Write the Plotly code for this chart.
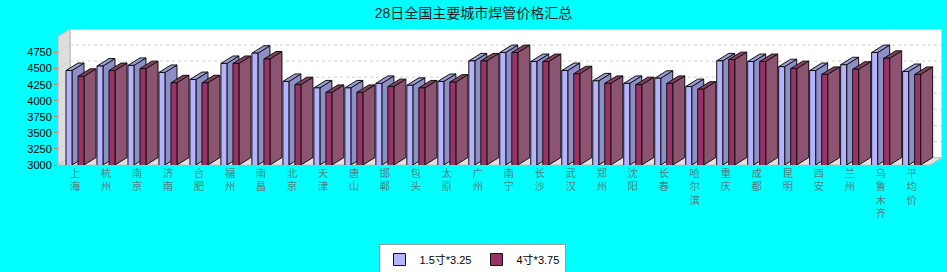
import plotly.graph_objects as go

cities = ["上海", "杭州", "南京", "济南", "合肥", "福州", "南昌", "北京", "天津", "唐山",
          "邯郸", "包头", "太原", "广州", "南宁", "长沙", "武汉", "郑州", "沈阳", "长春",
          "哈尔滨", "重庆", "成都", "昆明", "西安", "兰州", "乌鲁木齐", "平均价"]
series1_name = "1.5寸*3.25"
series1 = [4470, 4540, 4550, 4440, 4330, 4580, 4740, 4300, 4200, 4200,
           4270, 4240, 4300, 4620, 4750, 4610, 4470, 4310, 4270, 4350,
           4220, 4620, 4610, 4530, 4470, 4560, 4750, 4455]
series2_name = "4寸*3.75"
series2 = [4380, 4470, 4500, 4280, 4280, 4580, 4650, 4250, 4130, 4130,
           4220, 4200, 4290, 4620, 4750, 4610, 4420, 4270, 4250, 4270,
           4180, 4640, 4610, 4500, 4410, 4490, 4660, 4409]
y_ticks = [3000, 3250, 3500, 3750, 4000, 4250, 4500, 4750]
title = "28日全国主要城市焊管价格汇总"

# 3D geometry (axis units)
Y0, Y1 = 3000, 5000
DY = 116
DX = 0.3876
XA = -0.549
XB = 27.98
XF = XB - DX  # front right edge
W = 0.1938
OFF1 = -0.2907
OFF2 = 0.0969

idx = list(range(len(cities)))
fig = go.Figure()

shapes = []
# back wall
shapes.append(dict(type="rect", xref="x", yref="y", x0=XA + DX, x1=XB, y0=Y0 + DY, y1=Y1 + DY,
                   fillcolor="white", line=dict(color="#a8b4b4", width=1), layer="below"))
# left wall
shapes.append(dict(type="path", xref="x", yref="y", layer="below",
                   path=f"M{XA},{Y0} L{XA+DX},{Y0+DY} L{XA+DX},{Y1+DY} L{XA},{Y1} Z",
                   fillcolor="#dedede", line=dict(color="#b8b8b8", width=1)))
# floor
shapes.append(dict(type="path", xref="x", yref="y", layer="below",
                   path=f"M{XA},{Y0} L{XF},{Y0} L{XB},{Y0+DY} L{XA+DX},{Y0+DY} Z",
                   fillcolor="#e0e0e0", line=dict(color="#c0c0c0", width=1)))
# grid lines
for v in range(3250, 5000, 250):
    shapes.append(dict(type="line", xref="x", yref="y", layer="below",
                       x0=XA + DX, x1=XB, y0=v + DY, y1=v + DY,
                       line=dict(color="#cfcfcf", width=1, dash="3px,3px")))
    shapes.append(dict(type="line", xref="x", yref="y", layer="below",
                       x0=XA, x1=XA + DX, y0=v, y1=v + DY,
                       line=dict(color="#c8c8c8", width=1, dash="2px,2px")))

def faces(vals, off, top_col, side_col):
    out = []
    for i, v in zip(idx, vals):
        xl = i + off
        xr = xl + W
        out.append(dict(type="path", xref="x", yref="y", layer="below",
                        path=f"M{xr},{Y0} L{xr},{v} L{xr+DX},{v+DY} L{xr+DX},{Y0+DY} Z",
                        fillcolor=side_col, line=dict(color="#111111", width=1)))
        out.append(dict(type="path", xref="x", yref="y", layer="below",
                        path=f"M{xl},{v} L{xr},{v} L{xr+DX},{v+DY} L{xl+DX},{v+DY} Z",
                        fillcolor=top_col, line=dict(color="#111111", width=1)))
    return out

shapes += faces(series1, OFF1, "#9c9cd6", "#8f8fc8")
shapes += faces(series2, OFF2, "#86405f", "#8c5470")

fig.add_trace(go.Bar(x=idx, y=series1, name=series1_name, width=W, offset=OFF1,
                     marker=dict(color="#b3b3ff", line=dict(color="#111111", width=1))))
fig.add_trace(go.Bar(x=idx, y=series2, name=series2_name, width=W, offset=OFF2,
                     marker=dict(color="#993366", line=dict(color="#111111", width=1))))

fig.update_layout(
    width=947, height=272, autosize=False,
    margin=dict(l=58, r=5, t=29, b=107, autoexpand=False),
    paper_bgcolor="#00ffff", plot_bgcolor="rgba(0,0,0,0)",
    font=dict(family="Liberation Sans, Noto Sans CJK SC, sans-serif", size=11, color="black"),
    title=dict(text=title, x=0.5, xanchor="center", y=1 - 13 / 272, yanchor="middle",
               yref="container", font=dict(size=14, color="#222222",
                                           family="Liberation Sans, Noto Sans CJK SC")),
    barmode="overlay",
    showlegend=True,
    legend=dict(orientation="h", x=(472 - 58) / 884, xanchor="center",
                y=-0.581, yanchor="top", bgcolor="white", bordercolor="#999999",
                borderwidth=1, font=dict(size=11), itemwidth=30, tracegroupgap=0),
    shapes=shapes,
    xaxis=dict(range=[XA, XB], tickmode="array", tickvals=idx,
               ticktext=["<br>".join(list(c)) for c in cities],
               showgrid=False, zeroline=False, showline=False, ticks="",
               tickangle=0, automargin=False,
               tickfont=dict(size=10.5, color="#4f7f7f", family="Noto Sans CJK SC"),
               fixedrange=True),
    yaxis=dict(range=[Y0, Y1 + DY], tickmode="array", tickvals=y_ticks,
               showgrid=False, zeroline=False, showline=False, automargin=False,
               ticks="outside", ticklen=3, tickcolor="#c87878",
               tickfont=dict(size=11, color="black"), fixedrange=True),
)

fig.write_html("out.html")
